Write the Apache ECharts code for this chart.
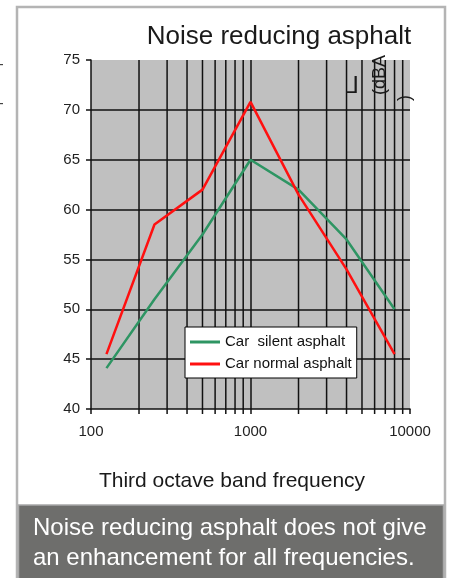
<!DOCTYPE html>
<html>
<head>
<meta charset="utf-8">
<script src="https://cdn.jsdelivr.net/npm/echarts@6/dist/echarts.min.js"></script>
<style>
html,body{margin:0;padding:0;background:#fff;}
#chart{width:451px;height:578px;}
</style>
</head>
<body>
<div id="chart"></div>
<script>
// ---- data ----
const frequencies = [125, 250, 500, 1000, 2000, 4000, 8000];
const silentAsphalt = [44.1, 51.0, 57.5, 65.0, 62.0, 57.0, 50.0];
const normalAsphalt = [45.5, 58.5, 62.0, 70.8, 61.5, 54.0, 45.5];
const seriesNames = ['Car  silent asphalt', 'Car normal asphalt'];
const minorGridFreqs = [200, 300, 400, 500, 600, 700, 800, 900, 2000, 3000, 4000, 5000, 6000, 7000, 8000, 9000];
const xTickLabels = ['100', '1000', '10000'];
const yMin = 40, yMax = 75, yStep = 5;
const xMin = 100, xMax = 10000;

const FONT = 'Liberation Sans, Arial, sans-serif';
const chart = echarts.init(document.getElementById('chart'));

const option = {
  backgroundColor: '#ffffff',
  animation: false,
  grid: {
    left: 91, top: 60, width: 319, height: 349,
    show: true, backgroundColor: '#c0c0c0', borderWidth: 0
  },
  legend: {
    data: seriesNames,
    orient: 'vertical',
    left: 185, top: 327,
    backgroundColor: '#ffffff',
    borderColor: '#000000', borderWidth: 1,
    padding: [7, 5, 6, 5],
    icon: 'rect',
    itemWidth: 30, itemHeight: 3, itemGap: 6,
    textStyle: { fontFamily: FONT, fontSize: 15, lineHeight: 16, color: '#111' },
    selectedMode: false
  },
  xAxis: {
    type: 'log', logBase: 10, min: xMin, max: xMax, interval: 1,
    axisLine: { show: true, lineStyle: { color: '#111', width: 1.5 } },
    axisTick: { show: true, length: 5, lineStyle: { color: '#111', width: 1.5 } },
    axisLabel: {
      margin: 15, fontFamily: FONT, fontSize: 15, color: '#222',
      formatter: function (v) {
        const s = String(Math.round(v));
        return xTickLabels.indexOf(s) >= 0 ? s : '';
      }
    },
    splitLine: { show: true, showMinLine: false, showMaxLine: false, lineStyle: { color: '#111', width: 1.5 } }
  },
  yAxis: {
    type: 'value', min: yMin, max: yMax, interval: yStep,
    axisLine: { show: true, lineStyle: { color: '#111', width: 1.5 } },
    axisTick: { show: true, length: 5, lineStyle: { color: '#111', width: 1.5 } },
    axisLabel: { margin: 11, fontFamily: FONT, fontSize: 15, color: '#222' },
    splitLine: { show: true, showMinLine: false, showMaxLine: false, lineStyle: { color: '#111', width: 1.5 } }
  },
  series: [
    {
      type: 'custom', silent: true, clip: false, z: 1,
      data: minorGridFreqs.map(f => [f, yMin]),
      encode: { x: 0, y: 1 },
      renderItem: function (params, api) {
        const f = api.value(0);
        const p1 = api.coord([f, yMax]);
        const p2 = api.coord([f, yMin]);
        return {
          type: 'line',
          shape: { x1: p1[0], y1: p1[1], x2: p2[0], y2: p2[1] + 5 },
          style: { stroke: '#111', lineWidth: 1.5 }
        };
      }
    },
    {
      name: seriesNames[0], type: 'line', z: 3,
      data: frequencies.map((f, i) => [f, silentAsphalt[i]]),
      symbol: 'none',
      lineStyle: { color: '#2e9563', width: 2.5 },
      itemStyle: { color: '#2e9563' }
    },
    {
      name: seriesNames[1], type: 'line', z: 4,
      data: frequencies.map((f, i) => [f, normalAsphalt[i]]),
      symbol: 'none',
      lineStyle: { color: '#ff1010', width: 2.5 },
      itemStyle: { color: '#ff1010' }
    }
  ],
  graphic: [
    { type: 'rect', silent: true, z: 100,
      shape: { x: 17, y: 7, width: 428, height: 600 },
      style: { fill: null, stroke: '#b4b4b4', lineWidth: 2.5 } },
    { type: 'rect', silent: true, z: 100,
      shape: { x: 18.5, y: 505, width: 425, height: 80 },
      style: { fill: '#6e6e6c', stroke: '#a8a8a8', lineWidth: 1.5 } },
    { type: 'text', silent: true, z: 101, x: 279, y: 37,
      style: { text: 'Noise reducing asphalt', fontFamily: FONT, fontSize: 26, fill: '#1a1a1a', align: 'center', verticalAlign: 'middle' } },
    { type: 'text', silent: true, z: 101, x: 352, y: 86, scaleX: -1,
      style: { text: 'L', fontFamily: FONT, fontSize: 24, fill: '#1a1a1a', align: 'center', verticalAlign: 'middle' } },
    { type: 'text', silent: true, z: 101, x: 380, y: 95, rotation: Math.PI / 2,
      style: { text: '(dBA', fontFamily: FONT, fontSize: 18, fill: '#1a1a1a', align: 'left', verticalAlign: 'middle' } },
    { type: 'text', silent: true, z: 101, x: 405, y: 101, rotation: Math.PI / 2,
      style: { text: ')', fontFamily: FONT, fontSize: 18, fill: '#1a1a1a', align: 'left', verticalAlign: 'middle' } },
    { type: 'text', silent: true, z: 101, x: 232, y: 481,
      style: { text: 'Third octave band frequency', fontFamily: FONT, fontSize: 21, fill: '#1a1a1a', align: 'center', verticalAlign: 'middle' } },
    { type: 'text', silent: true, z: 102, x: 33, y: 528,
      style: { text: 'Noise reducing asphalt does not give', fontFamily: FONT, fontSize: 24, fill: '#ffffff', align: 'left', verticalAlign: 'middle' } },
    { type: 'text', silent: true, z: 102, x: 33, y: 558,
      style: { text: 'an enhancement for all frequencies.', fontFamily: FONT, fontSize: 24, fill: '#ffffff', align: 'left', verticalAlign: 'middle' } },
    { type: 'rect', silent: true, z: 101, shape: { x: 0, y: 64, width: 3, height: 1.2 }, style: { fill: '#444' } },
    { type: 'rect', silent: true, z: 101, shape: { x: 0, y: 103, width: 3, height: 1.2 }, style: { fill: '#444' } }
  ]
};
chart.setOption(option);
</script>
</body>
</html>
